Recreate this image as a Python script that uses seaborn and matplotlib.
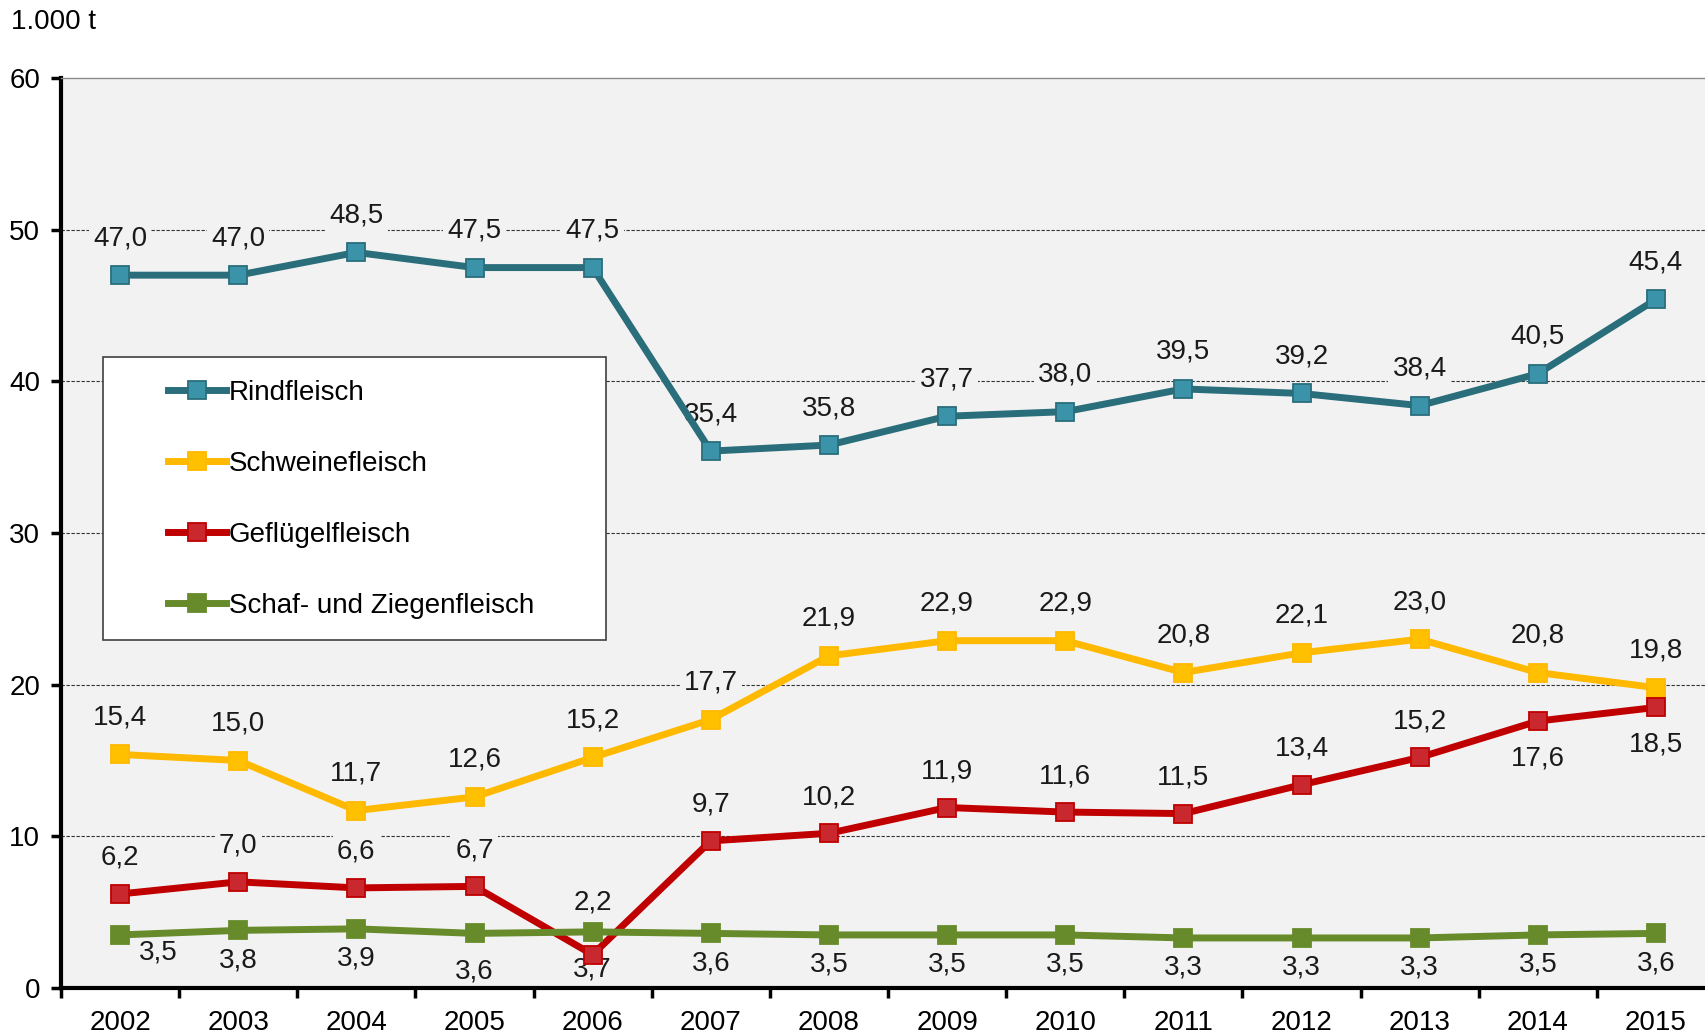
import numpy as np
import pandas as pd
import matplotlib
matplotlib.use("Agg")
import matplotlib.pyplot as plt
from matplotlib.patches import Rectangle
import seaborn as sns

# data
jahre = list(range(2002, 2016))
rind = [47.0, 47.0, 48.5, 47.5, 47.5, 35.4, 35.8, 37.7, 38.0, 39.5, 39.2, 38.4, 40.5, 45.4]
schwein = [15.4, 15.0, 11.7, 12.6, 15.2, 17.7, 21.9, 22.9, 22.9, 20.8, 22.1, 23.0, 20.8, 19.8]
gefluegel = [6.2, 7.0, 6.6, 6.7, 2.2, 9.7, 10.2, 11.9, 11.6, 11.5, 13.4, 15.2, 17.6, 18.5]
schaf = [3.5, 3.8, 3.9, 3.6, 3.7, 3.6, 3.5, 3.5, 3.5, 3.3, 3.3, 3.3, 3.5, 3.6]
sorten = ["Rindfleisch", "Schweinefleisch", "Geflügelfleisch", "Schaf- und Ziegenfleisch"]

linien_farben = ["#2A6E7C", "#FFB900", "#C00000", "#678A2A"]
marker_farben = ["#3A93A8", "#FFC000", "#C8282E", "#678A2A"]

df = pd.DataFrame({
    "jahr": jahre * 4,
    "wert": rind + schwein + gefluegel + schaf,
    "sorte": np.repeat(sorten, len(jahre)),
})

plt.rcParams["font.family"] = ["Liberation Sans", "DejaVu Sans"]
fs = 20

fig = plt.figure(figsize=(17.06, 10.35), dpi=100)
ax = fig.add_axes([61 / 1706, 1 - 988 / 1035, (1715 - 61) / 1706, (988 - 78) / 1035])
ax.set_facecolor("#F2F2F2")

sns.lineplot(data=df, x="jahr", y="wert", hue="sorte", hue_order=sorten,
             palette=linien_farben, marker="s", markersize=13, linewidth=5,
             dashes=False, legend=False, ax=ax, zorder=3)

for line, mf in zip(ax.lines, marker_farben):
    line.set_markerfacecolor(mf)
    line.set_markeredgecolor(line.get_color())
    line.set_markeredgewidth(1.3)

# Datenbeschriftungen
def fmt(v):
    return f"{v:.1f}".replace(".", ",")

offsets = {"Rindfleisch": 37, "Schweinefleisch": 37, "Geflügelfleisch": 36,
           "Schaf- und Ziegenfleisch": -30}
box = dict(boxstyle="square,pad=0.15", facecolor="#F2F2F2", edgecolor="none")
for sorte, werte in zip(sorten, [rind, schwein, gefluegel, schaf]):
    for j, v in zip(jahre, werte):
        dy = offsets[sorte]
        dx = 0
        if sorte == "Geflügelfleisch" and j >= 2014:
            dy = -37
        if sorte == "Geflügelfleisch" and j == 2006:
            dy = 52
        if sorte == "Schaf- und Ziegenfleisch" and j in (2005, 2006):
            dy = -38
        if sorte == "Schaf- und Ziegenfleisch" and j == 2002:
            dx, dy = 38, -18
        ax.annotate(fmt(v), (j, v), xytext=(dx, dy), textcoords="offset pixels",
                    ha="center", va="center", fontsize=fs, color="#1a1a1a",
                    bbox=box, zorder=2)

# Achsen
ax.set_xlim(2001.5, 2015.5)
ax.set_ylim(0, 60)
ax.set_yticks(range(0, 61, 10))
ax.set_xticks(jahre)
ax.set_xticks(np.arange(2001.5, 2016, 1), minor=True)
ax.tick_params(axis="x", which="major", length=0, labelsize=fs, pad=16)
ax.tick_params(axis="x", which="minor", length=7, width=2.5, direction="out")
ax.tick_params(axis="y", which="major", length=7, width=2.5, direction="out",
               labelsize=fs, pad=8)
ax.set_xlabel("")
ax.set_ylabel("")

for y in range(10, 60, 10):
    ax.axhline(y, color="#333333", linewidth=0.8, linestyle=(0, (3, 1.5)), zorder=0.5)

for s in ["left", "bottom"]:
    ax.spines[s].set_linewidth(3)
    ax.spines[s].set_color("black")
ax.spines["top"].set_color("#8C8C8C")
ax.spines["top"].set_linewidth(1)
ax.spines["right"].set_visible(False)

fig.text(11 / 1706, 1 - 22 / 1035, "1.000 t", fontsize=fs, va="center", ha="left")

# Legende
ax.add_patch(Rectangle((103 / 1706, 1 - 640 / 1035), (606 - 103) / 1706,
                       (640 - 357) / 1035, transform=fig.transFigure,
                       facecolor="white", edgecolor="#404040", linewidth=1.2,
                       zorder=4, clip_on=False))
leg = ax.legend(ax.lines, sorten, loc="upper left",
                bbox_to_anchor=(168 / 1706, 1 - 380 / 1035), bbox_transform=fig.transFigure,
                frameon=False, fontsize=fs, handlelength=2.1, handletextpad=0.1,
                labelspacing=1.62, borderpad=0, borderaxespad=0)
leg.set_zorder(5)

fig.savefig("out.png", dpi=100)
